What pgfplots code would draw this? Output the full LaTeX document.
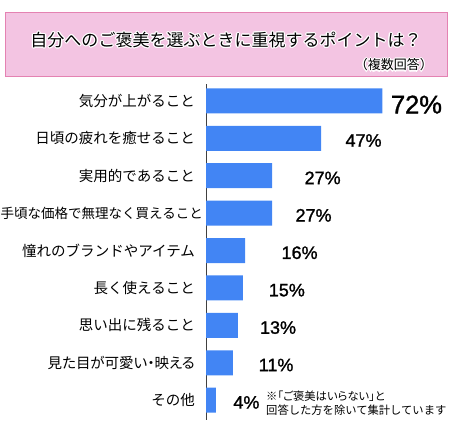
\documentclass[border=0pt]{standalone}
\usepackage{fontspec}
\setmainfont{Noto Sans CJK JP}
\newfontfamily\paltfont[RawFeature=+palt]{Noto Sans CJK JP}
\newfontfamily\pctfont[FakeBold=1.3]{Liberation Sans}
\usepackage{pgfplots}
\pgfplotsset{compat=1.18}
\definecolor{barblue}{RGB}{66,133,244}
\definecolor{boxpink}{RGB}{243,196,226}
\definecolor{boxedge}{RGB}{228,130,178}
\begin{document}
\begin{tikzpicture}[x=1bp,y=1bp]
\useasboundingbox (0,0) rectangle (452,431);
% title box
\draw[boxedge, fill=boxpink, line width=1bp] (5,355) rectangle (447,418);
\foreach \dx/\dy in {1/0,-1/0,0/1,0/-1,0.7/0.7,-0.7/0.7,0.7/-0.7,-0.7/-0.7,1.4/0,-1.4/0,0/1.4,0/-1.4}{
  \node[white, inner sep=0pt] at (226+\dx,391+\dy) {\fontsize{17bp}{20bp}\selectfont 自分へのご褒美を選ぶときに重視するポイントは？};
  \node[white, inner sep=0pt, anchor=east] at (433+\dx,366+\dy) {\fontsize{13bp}{15bp}\selectfont （複数回答）};
}
\node[black, inner sep=0pt] at (226,391) {\fontsize{17bp}{20bp}\selectfont 自分へのご褒美を選ぶときに重視するポイントは？};
\node[black, inner sep=0pt, anchor=east] at (433,366) {\fontsize{13bp}{15bp}\selectfont （複数回答）};
\begin{axis}[
  at={(206bp,11bp)}, anchor=south west,
  scale only axis,
  width=245bp, height=336bp,
  xmin=0, xmax=100,
  ymin=-0.45, ymax=8.53,
  y dir=reverse,
  axis x line=none,
  axis y line*=left,
  y axis line style={black!75, line width=0.8bp, -},
  ytick={0,1,2,3,4,5,6,7,8},
  yticklabels={気分が上がること, 日頃の疲れを癒せること, 実用的であること, {\fontsize{13.5bp}{15bp}\selectfont 手頃な価格で無理なく買えること\kern-8bp}, 憧れのブランドやアイテム, 長く使えること, 思い出に残ること, {\paltfont 見た目が可愛い・映える}, その他},
  ytick style={draw=none},
  yticklabel style={font=\fontsize{14.5bp}{16bp}\selectfont, inner sep=0pt, xshift=-11bp, anchor=east},
  clip=false,
]
\addplot[xbar, bar width=25bp, fill=barblue, draw=none] coordinates {
  (72,0) (47,1) (27,2) (27,3) (16,4) (15,5) (13,6) (11,7) (4,8)};
\addplot[draw=none, mark=none, nodes near coords, point meta=explicit symbolic,
  nodes near coords style={anchor=center, inner sep=0pt, font=\pctfont\fontsize{25.5bp}{28bp}\selectfont}]
  coordinates {(85.9,0.1) [72\%]};
\addplot[draw=none, mark=none, nodes near coords, point meta=explicit symbolic,
  nodes near coords style={anchor=center, inner sep=0pt, font=\pctfont\fontsize{18bp}{20bp}\selectfont}]
  coordinates {(64.3,1.06) [47\%] (47.6,2.06) [27\%] (43.9,3.06) [27\%] (38.2,4.06) [16\%] (33.0,5.06) [15\%] (29.4,6.06) [13\%] (28.6,7.06) [11\%] (16.5,8.06) [4\%]};
\node[anchor=north west, inner sep=0pt, align=left, font=\fontsize{11.3bp}{14bp}\selectfont] at (axis cs:24.5,7.75) {{\paltfont ※「ご褒美はいらない」と}\\回答した方を除いて集計しています};
\end{axis}
\end{tikzpicture}
\end{document}
